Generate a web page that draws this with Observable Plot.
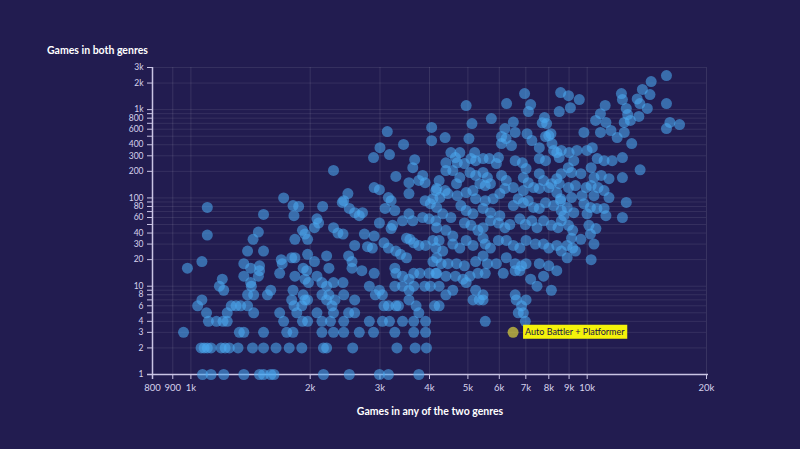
<!DOCTYPE html>
<html><head><meta charset="utf-8">
<script src="https://cdn.jsdelivr.net/npm/d3@7"></script>
<script src="https://cdn.jsdelivr.net/npm/@observablehq/plot@0.6"></script>
<style>
html,body{margin:0;padding:0;background:#221c50;}
#wrap{position:relative;width:800px;height:449px;overflow:hidden;font-family:Lato,sans-serif;}
.ttl{position:absolute;color:#ffffff;font-weight:700;font-size:10.5px;white-space:nowrap;}
#yl{left:47px;top:44px;}
#xl{left:430px;top:405px;transform:translateX(-50%);}
</style></head><body>
<div id="wrap"><div class="ttl" id="yl">Games in both genres</div><div class="ttl" id="xl">Games in any of the two genres</div></div>
<script>
// [games in any of the two genres, games in both genres]
const under2k = [
[1714,100],[1100,78],[1810,82],[1870,80],[1820,63],[1525,65],[1100,38],[1480,41],[1435,34],[1912,43],
[1830,34],[1390,25],[1525,25],[1066,19],[980,16],[1360,18],[1415,16],[1490,17],[1490,15],[1360,13],
[1480,13],[1200,12],[1180,10],[1210,9],[1415,11],[1421,10],[1390,8],[1440,8],[1590,9],[1560,8],
[1066,7],[1040,6],[1264,6],[1300,6],[1335,6],[1390,6],[1095,5],[1235,5],[1440,5],[1675,5],
[1107,4],[1160,4],[1205,4],[1235,4],[1714,4],[1912,4],[1970,4],[958,3],[1325,3],[1360,3],
[1525,3],[1745,3],[1810,3],[1061,2],[1080,2],[1100,2],[1124,2],[1192,2],[1220,2],[1250,2],
[1315,2],[1430,2],[1525,2],[1640,2],[1770,2],[1905,2],[1070,1],[1124,1],[1210,1],[1360,1],
[1490,1],[1525,1],[1590,1],[1620,1],[1675,14],[1700,18],[1690,20],[1796,21],[1830,21],[1830,13],
[1920,16],[1960,15],[1940,12],[1980,11],[1810,9],[1796,7],[1820,6],[1850,5],[1920,8],[1970,7],
[1940,39],[1970,34],[1970,23],[1905,6],[1940,7]
];
const from2kTo4k = [
[3130,565],[3000,371],[3440,403],[2890,286],[3170,310],[2290,205],[3670,271],[3630,220],[3845,180],[3760,158],
[3900,149],[3290,175],[3550,149],[2900,131],[2990,124],[2490,112],[2430,93],[2410,89],[3150,101],[3200,93],
[3550,112],[3900,93],[2150,80],[2510,76],[2590,68],[2660,63],[2710,68],[3090,76],[3270,72],[3550,66],
[3420,55],[3630,55],[3845,60],[3990,58],[2080,58],[2100,52],[2050,46],[2290,46],[2350,40],[2420,39],
[2990,52],[3230,49],[3200,45],[2740,39],[2900,37],[2590,29],[2790,28],[2870,27],[3070,31],[3150,27],
[3290,25],[3380,23],[3500,21],[3500,35],[3570,34],[3650,31],[3760,29],[3910,29],[2050,19],[2200,22],
[2230,16],[2500,22],[2550,19],[2550,16],[2700,15],[2900,14],[3270,16],[3290,14],[3420,13],[3550,12],
[3650,14],[3780,14],[3990,14],[2080,13],[2141,11],[2200,10],[2290,11],[2420,11],[2430,8],[2310,7],
[2590,7],[2820,10],[2990,9],[2920,8],[3043,8],[3070,6],[3150,6],[3290,6],[3340,6],[3550,7],
[3700,6],[3270,10],[3420,10],[3550,9],[3650,10],[3890,10],[3760,5],[2141,8],[2230,8],[2200,7],
[2270,6],[2290,5],[2080,5],[2500,5],[2590,5],[2820,4],[3043,4],[3170,4],[3420,4],[3650,4],
[3910,4],[2141,4],[2250,4],[2430,4],[2141,3],[2290,3],[2430,3],[2660,3],[2890,3],[3270,3],
[3650,3],[3910,3],[2160,2],[2200,2],[2560,2],[3310,2],[3680,2],[3930,2],[2160,1],[2510,1],
[2990,1],[3150,1],[3760,1]
];
const from4kTo8k = [
[4050,628],[4050,445],[4150,121],[4250,101],[4020,86],[4150,55],[4150,27],[4150,14],[4020,10],
[4380,483],[4950,1113],[5120,696],[5730,793],[6260,1172],[6510,723],[6950,1521],[7200,1140],[7110,950],[6200,611],
[6580,551],[7050,533],[7800,814],[7700,708],[7900,696],[7850,496],[6080,496],[6240,470],[5030,470],[6440,392],
[6080,413],[7250,447],[7570,371],[4530,326],[4650,286],[4400,250],[4770,326],[4700,250],[4900,245],[5200,326],
[5230,264],[5090,279],[5460,279],[5660,279],[5970,286],[5900,245],[6580,264],[6860,250],[7010,215],[7570,279],
[7850,264],[4400,204],[4580,204],[4770,170],[4680,145],[4230,157],[4170,128],[4380,121],[5060,194],[5230,180],
[5460,194],[5600,170],[5360,145],[5530,138],[5700,145],[6080,180],[6250,157],[6900,170],[7100,149],[7570,188],
[7760,157],[4450,112],[4700,106],[4950,115],[5150,121],[5230,98],[5530,93],[5790,98],[6020,112],[6200,128],
[6510,131],[6900,121],[7320,131],[7570,128],[4080,98],[4170,78],[4320,66],[4530,60],[4800,82],[4950,72],
[5150,66],[5460,76],[5700,68],[6020,63],[6510,82],[6700,98],[6900,88],[7100,93],[7320,78],[7570,76],
[7850,88],[4170,46],[4400,43],[4580,37],[4230,33],[4900,52],[5090,49],[5300,43],[5460,46],[5700,55],
[5970,52],[6200,46],[6380,50],[6760,58],[6980,50],[7250,55],[7470,46],[7760,55],[4080,33],[4320,25],
[4170,21],[4580,30],[4770,27],[4950,33],[5150,29],[5460,35],[5530,30],[5700,27],[5970,33],[6250,33],
[6510,29],[6760,27],[7010,33],[7400,30],[7760,30],[4080,19],[4280,18],[4450,18],[4680,18],[4900,17],
[5230,19],[5460,22],[5600,18],[5900,18],[6250,21],[6580,18],[6830,17],[7010,18],[7570,18],[4170,14],
[4400,13],[4650,13],[4860,12],[5060,13],[5300,14],[5530,14],[6140,14],[6580,15],[6760,15],[7200,12],
[7470,10],[7760,13],[4230,10],[4400,8],[4580,9],[4950,11],[5230,9],[5460,8],[5150,7],[5340,7],
[5460,7],[6580,8],[6620,7],[6830,6],[7010,7],[6700,5],[6900,5],[4120,6],[4230,6],[5530,4],
[6980,4]
];
const over8k = [
[8570,1560],[8500,950],[8100,533],[8000,509],[8150,413],[8380,326],[8500,286],[8120,145],[8380,165],[8600,188],
[8000,131],[8380,115],[8230,82],[8570,98],[8600,72],[8120,49],[8440,46],[8600,55],[8000,27],[8380,29],
[8600,25],[8000,17],[8120,9],
[15850,2434],[14500,2080],[13780,1692],[14400,1482],[15850,1172],[12200,1521],[12270,1300],[13370,1320],[13580,1172],[14180,1032],
[12550,1032],[12650,879],[12400,717],[12850,754],[13500,837],[11100,1117],[10800,900],[10500,754],[11150,717],[8970,1440],
[9550,1300],[9070,1050],[16170,717],[15850,610],[17100,677],[11480,580],[11900,482],[12400,551],[9810,551],[10800,551],
[12950,413],[8230,345],[8600,345],[9000,326],[9420,345],[9990,345],[10300,371],[9250,264],[10600,279],[11030,264],
[11560,264],[12270,286],[13600,208],[8960,220],[9130,194],[9640,188],[10230,220],[10400,170],[10850,180],[11350,165],
[12270,170],[8500,145],[8970,131],[9340,138],[9940,131],[10230,138],[10650,131],[11030,121],[11350,101],[10400,106],
[9700,106],[9130,101],[8570,93],[12550,89],[8900,78],[9250,68],[9810,86],[10190,78],[10580,76],[11030,76],
[12270,60],[8730,63],[9990,66],[11150,63],[8970,49],[9190,43],[10100,49],[10520,45],[9640,34],[9130,35],
[10400,30],[10190,39],[8900,29],[9340,25],[9190,27],[8900,21],[10230,20],[8380,15]
];
const highlightName = ["Auto Battler + Platformer"];
const highlightAny = [6500];
const highlightBoth = [3];

const xTicks = [800, 900, 1000, 2000, 3000, 4000, 5000, 6000, 7000, 8000, 9000, 10000, 20000];
const yTicks = [1,2,3,4,5,6,7,8,9,10,20,30,40,50,60,70,80,90,100,200,300,400,500,600,700,800,900,1000,2000,3000];
const yLabeled = [1,2,3,4,6,8,10,20,30,40,60,80,100,200,300,400,600,800,1000,2000,3000];

const points = [...under2k, ...from2kTo4k, ...from4kTo8k, ...over8k].map(([a, b]) => ({any: a, both: b}));
const highlight = highlightName.map((n, i) => ({name: n, any: highlightAny[i], both: highlightBoth[i]}));

const fmt = d3.format("~s");
const axisColor = "#c9c4e4";
const labelColor = "#d6d2ec";

const chart = Plot.plot({
  width: 800, height: 449,
  marginLeft: 152, marginRight: 94, marginTop: 67, marginBottom: 75,
  style: {background: "transparent", color: labelColor, fontFamily: "Lato, sans-serif", fontSize: "10px"},
  x: {type: "log", domain: [800, 20000]},
  y: {type: "log", domain: [1, 3000]},
  marks: [
    Plot.gridY(yTicks, {stroke: "#ffffff", strokeOpacity: 0.09}),
    Plot.gridX(xTicks, {stroke: "#ffffff", strokeOpacity: 0.1}),
    Plot.axisX(xTicks, {tickSize: 5, text: null, label: null, stroke: axisColor}),
    Plot.axisY(yTicks, {tickSize: 5, text: null, label: null, stroke: axisColor}),
    Plot.text(xTicks, {x: d => d, text: d => fmt(d), frameAnchor: "bottom", dy: 16, fill: labelColor, fontSize: 9.5}),
    Plot.text(yLabeled, {y: d => d, text: d => fmt(d), frameAnchor: "left", dx: -9, textAnchor: "end", fill: labelColor, fontSize: 8.5}),
    Plot.ruleY([1], {stroke: axisColor, strokeWidth: 1.5, insetLeft: -5, insetRight: -2}),
    Plot.ruleX([800], {stroke: axisColor, strokeWidth: 1.5, insetBottom: -5}),
    Plot.dot(points, {x: "any", y: "both", r: 5.5, fill: "#4aa9f0", fillOpacity: 0.58, stroke: "none"}),
    Plot.dot(highlight, {x: "any", y: "both", r: 5.5, fill: "#e6dd3a", fillOpacity: 0.66, stroke: "none"}),
    Plot.text(highlight, {x: "any", y: "both", text: "name", dx: 12, textAnchor: "start", fill: "#1b1646", fontSize: 9, fontFamily: "Lato, sans-serif", className: "hl-label"})
  ]
});
chart.style.position = "absolute";
chart.style.left = "0px";
chart.style.top = "0px";
document.getElementById("wrap").prepend(chart);

// yellow label box behind the highlight text
d3.select(chart).selectAll('.hl-label text').each(function() {
  const b = this.getBBox();
  d3.select(this.parentNode).insert("rect", "text")
    .attr("transform", this.getAttribute("transform"))
    .attr("x", b.x - 2).attr("y", b.y - 1.5)
    .attr("width", b.width + 4).attr("height", b.height + 3)
    .attr("fill", "#f4f20a");
});
</script>
</body></html>
